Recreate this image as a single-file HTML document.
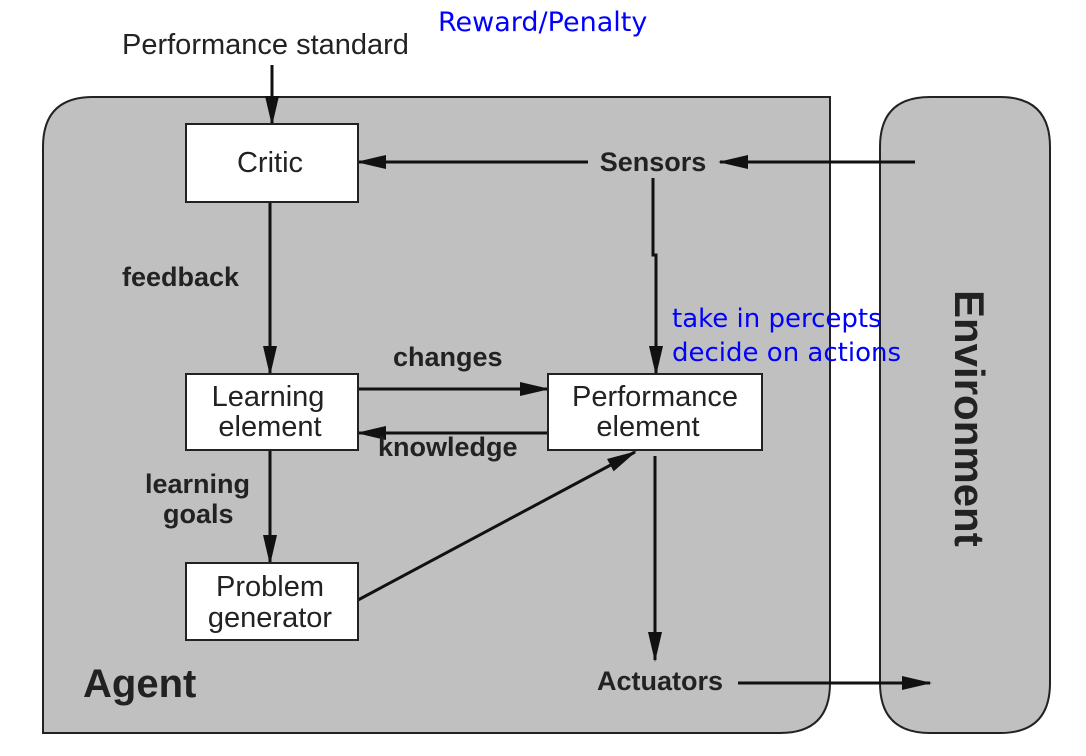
<!DOCTYPE html>
<html><head><meta charset="utf-8"><style>
body{margin:0;background:#fff}
svg{display:block}
.n{font-family:"Liberation Sans",Arial,sans-serif;font-size:29px;fill:#222}
.b{font-family:"Liberation Sans",Arial,sans-serif;font-size:27px;font-weight:bold;fill:#222}
.bl{font-family:"DejaVu Sans",sans-serif;font-size:26px;fill:#0000ff}
</style></head><body>
<svg width="1086" height="756" viewBox="0 0 1086 756">
<defs><marker id="a" markerWidth="30" markerHeight="16" refX="28" refY="8" orient="auto" markerUnits="userSpaceOnUse"><path d="M0,1 L30,8 L0,15 z" fill="#111"/></marker></defs>
<path d="M93,97 H830 V683 Q830,733 780,733 H43 V147 Q43,97 93,97 Z" fill="#c0c0c0" stroke="#222" stroke-width="2"/>
<path d="M930,97 H1000 Q1050,97 1050,147 V683 Q1050,733 1000,733 H930 Q880,733 880,683 V147 Q880,97 930,97 Z" fill="#c0c0c0" stroke="#222" stroke-width="2"/>
<text class="bl" x="438" y="31" style="font-size:27px">Reward/Penalty</text>
<text class="n" x="122" y="54">Performance standard</text>
<g stroke="#111" stroke-width="3" fill="none" marker-end="url(#a)">
<line x1="272" y1="65" x2="272" y2="124"/>
<line x1="915" y1="162" x2="720" y2="162"/>
<line x1="588" y1="162" x2="358" y2="162"/>
<line x1="270" y1="202" x2="270" y2="374"/>
<polyline points="653,178 653,255 656,255 656,374"/>
<line x1="358" y1="389" x2="548" y2="389"/>
<line x1="548" y1="433" x2="358" y2="433"/>
<line x1="270" y1="450" x2="270" y2="563"/>
<line x1="358" y1="600" x2="635" y2="452"/>
<line x1="655" y1="456" x2="655" y2="660"/>
<line x1="738" y1="683" x2="930" y2="683"/>
</g>
<rect x="186" y="124" width="172" height="78" fill="#fff" stroke="#222" stroke-width="2"/>
<rect x="186" y="374" width="172" height="76" fill="#fff" stroke="#222" stroke-width="2"/>
<rect x="548" y="374" width="214" height="76" fill="#fff" stroke="#222" stroke-width="2"/>
<rect x="186" y="563" width="172" height="77" fill="#fff" stroke="#222" stroke-width="2"/>
<text class="n" x="270" y="172" text-anchor="middle">Critic</text>
<text class="n" x="268" y="406" text-anchor="middle">Learning</text>
<text class="n" x="270" y="436" text-anchor="middle">element</text>
<text class="n" x="655" y="406" text-anchor="middle">Performance</text>
<text class="n" x="648" y="436" text-anchor="middle">element</text>
<text class="n" x="270" y="596" text-anchor="middle">Problem</text>
<text class="n" x="270" y="627" text-anchor="middle">generator</text>
<text class="b" x="653" y="171" text-anchor="middle">Sensors</text>
<text class="b" x="122" y="286">feedback</text>
<text class="b" x="393" y="366">changes</text>
<text class="b" x="378" y="456">knowledge</text>
<text class="b" x="145" y="493">learning</text>
<text class="b" x="163" y="523">goals</text>
<text class="b" x="660" y="690" text-anchor="middle">Actuators</text>
<text x="83" y="697" style="font-family:'Liberation Sans',sans-serif;font-size:40px;font-weight:bold;fill:#222">Agent</text>
<text class="bl" x="672" y="327">take in percepts</text>
<text class="bl" x="672" y="361">decide on actions</text>
<text transform="translate(955,290) rotate(90)" style="font-family:'Liberation Sans',sans-serif;font-size:42px;font-weight:bold;fill:#222">Environment</text>
</svg>
</body></html>
